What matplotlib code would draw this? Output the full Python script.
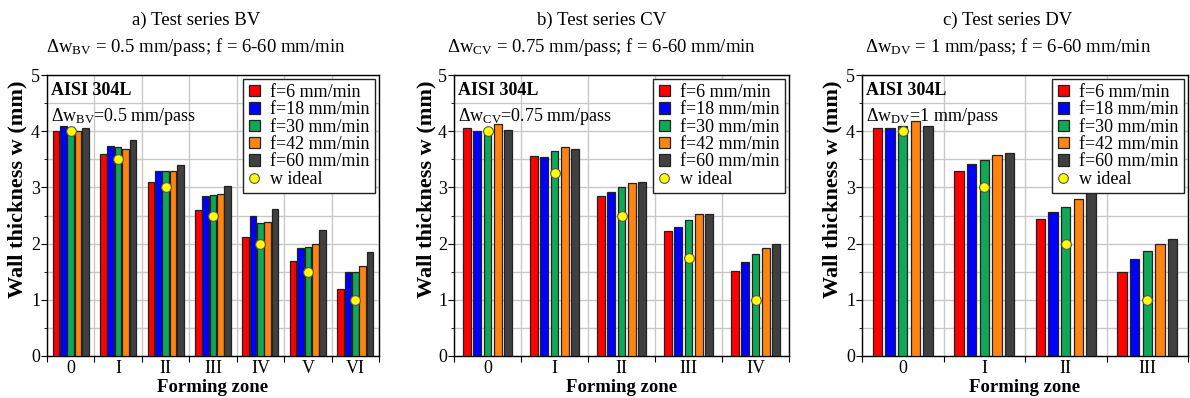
import numpy as np
import matplotlib
matplotlib.use('Agg')
import matplotlib.pyplot as plt
from matplotlib.lines import Line2D
from matplotlib.patches import Patch

plt.rcParams['font.family'] = ['Liberation Serif', 'DejaVu Serif']
plt.rcParams['mathtext.fontset'] = 'custom'
plt.rcParams['mathtext.rm'] = 'Liberation Serif'
plt.rcParams['mathtext.it'] = 'Liberation Serif:italic'
plt.rcParams['mathtext.bf'] = 'Liberation Serif:bold'

# feed rates (legend) and bar colours
feed_labels = ['f=6 mm/min', 'f=18 mm/min', 'f=30 mm/min', 'f=42 mm/min', 'f=60 mm/min']
colors = ['#ff0000', '#0000ff', '#10a858', '#ff8410', '#404040']

# a) test series BV
zones_bv = ['0', 'I', 'II', 'III', 'IV', 'V', 'VI']
bv_f6 = [4.00, 3.59, 3.09, 2.60, 2.12, 1.69, 1.20]
bv_f18 = [4.10, 3.74, 3.29, 2.85, 2.49, 1.92, 1.49]
bv_f30 = [4.05, 3.72, 3.29, 2.86, 2.37, 1.94, 1.50]
bv_f42 = [4.00, 3.69, 3.29, 2.88, 2.39, 1.99, 1.60]
bv_f60 = [4.06, 3.84, 3.40, 3.02, 2.62, 2.25, 1.85]
bv_ideal = [4.0, 3.5, 3.0, 2.5, 2.0, 1.5, 1.0]

# b) test series CV
zones_cv = ['0', 'I', 'II', 'III', 'IV']
cv_f6 = [4.05, 3.56, 2.85, 2.22, 1.52]
cv_f18 = [4.01, 3.54, 2.92, 2.30, 1.67]
cv_f30 = [3.99, 3.64, 3.00, 2.42, 1.82]
cv_f42 = [4.12, 3.72, 3.08, 2.52, 1.92]
cv_f60 = [4.02, 3.69, 3.09, 2.53, 2.00]
cv_ideal = [4.0, 3.25, 2.5, 1.75, 1.0]

# c) test series DV
zones_dv = ['0', 'I', 'II', 'III']
dv_f6 = [4.06, 3.30, 2.44, 1.49]
dv_f18 = [4.05, 3.42, 2.56, 1.73]
dv_f30 = [4.09, 3.49, 2.66, 1.87]
dv_f42 = [4.18, 3.58, 2.79, 1.99]
dv_f60 = [4.10, 3.61, 2.92, 2.09]
dv_ideal = [4.0, 3.0, 2.0, 1.0]

panels = [
    ('a) Test series BV', 'BV', '0.5', zones_bv,
     [bv_f6, bv_f18, bv_f30, bv_f42, bv_f60], bv_ideal, 0.14),
    ('b) Test series CV', 'CV', '0.75', zones_cv,
     [cv_f6, cv_f18, cv_f30, cv_f42, cv_f60], cv_ideal, 0.115),
    ('c) Test series DV', 'DV', '1', zones_dv,
     [dv_f6, dv_f18, dv_f30, dv_f42, dv_f60], dv_ideal, 0.115),
]

fig = plt.figure(figsize=(11.9, 3.98), dpi=100)
boxes = [(47, 379), (454, 789), (862, 1188)]
title_x = [196, 602, 1008]
ylabel_x = [27, 436, 842]  # pixel right edge of the y label
W, H = 1190, 398

for (title, sub, dw, zones, series, ideal, bw), (x0, x1), tx, lx in zip(panels, boxes, title_x, ylabel_x):
    ax = fig.add_axes([x0 / W, (H - 356) / H, (x1 - x0) / W, (356 - 75) / H])
    x = np.arange(len(zones))
    pitch = 0.155
    for i, (vals, c) in enumerate(zip(series, colors)):
        ax.bar(x + (i - 2) * pitch, vals, width=bw, color=c,
               edgecolor='#222222', linewidth=0.9, zorder=3)
    ax.plot(x, ideal, 'o', markersize=7, markerfacecolor='#ffff00',
            markeredgecolor='#555555', markeredgewidth=0.8, zorder=4)

    ax.set_xlim(-0.5, len(zones) - 0.5)
    ax.set_ylim(0, 5)
    ax.set_yticks([0, 1, 2, 3, 4, 5])
    ax.set_yticks(np.arange(0.5, 5, 1.0), minor=True)
    ax.set_xticks(np.arange(len(zones) + 1) - 0.5)
    ax.set_xticklabels([])
    ax.set_xticks(x, minor=True)
    ax.set_xticklabels(zones, minor=True, fontsize=13)
    ax.tick_params(axis='x', which='minor', length=0, pad=3)
    ax.tick_params(axis='x', which='major', length=4, direction='out')
    ax.tick_params(axis='y', which='major', length=4, labelsize=13, pad=1)
    ax.tick_params(axis='y', which='minor', length=2)
    ax.grid(True, axis='y', which='both', color='#c8c8c8', linewidth=1.0, zorder=0)
    ax.grid(True, axis='x', which='major', color='#c8c8c8', linewidth=1.0, zorder=0)
    ax.set_axisbelow(True)
    for s in ax.spines.values():
        s.set_linewidth(1.0)

    ax.set_xlabel('Forming zone', fontsize=13.5, fontweight='bold', labelpad=1)
    ax.set_ylabel('Wall thickness w (mm)', fontsize=16, fontweight='bold')
    ax.yaxis.set_label_coords((lx - x0) / (x1 - x0), (356 - 189) / 281)

    ax.text(0.012, 0.975, 'AISI 304L', transform=ax.transAxes, fontsize=13,
            fontweight='bold', va='top', ha='left', zorder=6)
    ax.text(0.012, 0.89, 'Δw$_{\\mathrm{' + sub + '}}$=' + dw + ' mm/pass',
            transform=ax.transAxes, fontsize=13, va='top', ha='left', zorder=6)

    handles = [Patch(facecolor=c, edgecolor='#222222', linewidth=0.9) for c in colors]
    handles.append(Line2D([], [], linestyle='none', marker='o', markersize=7,
                          markerfacecolor='#ffff00', markeredgecolor='#555555',
                          markeredgewidth=0.8))
    leg = ax.legend(handles, feed_labels + ['w ideal'], loc='upper right',
                    fontsize=13, handlelength=0.6, handleheight=0.6,
                    handletextpad=0.6, labelspacing=0.02, borderpad=0.3,
                    borderaxespad=0.2, fancybox=False, framealpha=1)
    leg.get_frame().set_edgecolor('#222222')
    leg.get_frame().set_linewidth(1.0)
    leg.set_zorder(10)

    fig.text(tx / W, 1 - 20 / H, title, fontsize=13.5, ha='center', va='center')
    fig.text(tx / W, 1 - 47 / H,
             'Δw$_{\\mathrm{' + sub + '}}$ = ' + dw + ' mm/pass; f = 6-60 mm/min',
             fontsize=13.5, ha='center', va='center')

fig.savefig('out.png', dpi=100)
